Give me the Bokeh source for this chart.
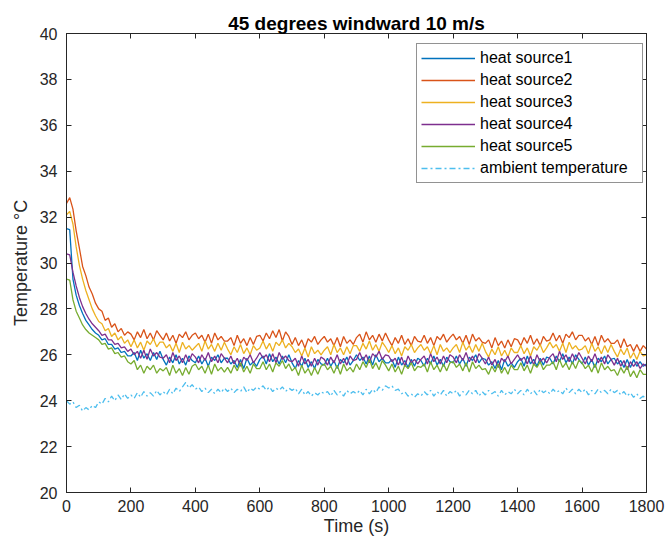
from bokeh.plotting import figure
from bokeh.models import Range1d, LinearAxis, SingleIntervalTicker, Legend
from bokeh.embed import file_html
from bokeh.resources import INLINE

# ---------------- data ----------------
time_s = list(range(0, 1801, 10))

heat_source1 = [
    31.5, 31.45, 29.3, 28.6, 28.15, 27.8, 27.5, 27.3, 27.1, 26.95,
    26.85, 26.65, 26.7, 26.45, 26.45, 26.25, 26.3, 26.1, 26.15, 25.95,
    25.95, 26.1, 25.75, 26.2, 25.85, 26.05, 25.75, 26.1, 25.8, 26.15,
    25.8, 25.55, 25.9, 25.65, 26.0, 25.6, 25.85, 25.55, 25.95, 25.75,
    25.65, 25.95, 25.6, 25.85, 25.5, 25.9, 25.75, 26.0, 25.65, 25.85,
    25.85, 25.6, 25.75, 25.45, 25.8, 25.4, 25.85, 25.55, 25.7, 25.5,
    25.8, 25.95, 25.6, 26.05, 25.7, 25.9, 25.6, 25.95, 25.65, 26.0,
    25.65, 25.4, 25.75, 25.5, 25.85, 25.45, 25.7, 25.4, 25.8, 25.6,
    25.55, 25.85, 25.5, 25.75, 25.4, 25.8, 25.65, 25.9, 25.55, 25.75,
    26.0, 25.75, 25.9, 25.6, 25.95, 25.55, 26.0, 25.7, 25.85, 25.65,
    25.65, 25.8, 25.45, 25.9, 25.55, 25.75, 25.45, 25.8, 25.5, 25.85,
    25.75, 25.5, 25.85, 25.6, 25.95, 25.55, 25.8, 25.5, 25.9, 25.7,
    25.65, 25.95, 25.6, 25.85, 25.5, 25.9, 25.75, 26.0, 25.65, 25.85,
    25.8, 25.55, 25.7, 25.4, 25.75, 25.35, 25.8, 25.5, 25.65, 25.45,
    25.7, 25.85, 25.5, 25.95, 25.6, 25.8, 25.5, 25.85, 25.55, 25.9,
    25.85, 25.6, 25.95, 25.7, 26.05, 25.65, 25.9, 25.6, 26.0, 25.8,
    25.6, 25.9, 25.55, 25.8, 25.45, 25.85, 25.7, 25.95, 25.6, 25.8,
    25.85, 25.6, 25.75, 25.45, 25.8, 25.45, 25.8, 25.5, 25.7, 25.5,
    25.6,
]

heat_source2 = [
    32.6, 32.85, 32.35, 31.4, 30.65, 29.85, 29.45, 28.95, 28.65, 28.25,
    28.0, 27.9, 27.5, 27.6, 27.2, 27.35, 27.0, 27.15, 26.85, 27.0,
    26.9, 26.65, 27.0, 26.75, 27.1, 26.7, 26.95, 26.65, 27.05, 26.85,
    26.65, 26.95, 26.6, 26.85, 26.5, 26.9, 26.75, 27.0, 26.65, 26.85,
    26.95, 26.7, 26.85, 26.55, 26.9, 26.5, 26.95, 26.65, 26.8, 26.6,
    26.6, 26.75, 26.4, 26.85, 26.5, 26.7, 26.4, 26.75, 26.45, 26.8,
    26.85, 26.6, 26.95, 26.7, 27.05, 26.75, 27.1, 26.6, 27.0, 26.8,
    26.45, 26.75, 26.4, 26.65, 26.3, 26.7, 26.55, 26.8, 26.45, 26.65,
    26.8, 26.55, 26.7, 26.4, 26.75, 26.35, 26.8, 26.5, 26.65, 26.45,
    26.75, 26.9, 26.55, 27.0, 26.65, 26.85, 26.55, 26.9, 26.6, 26.95,
    26.65, 26.4, 26.75, 26.5, 26.85, 26.45, 26.7, 26.4, 26.8, 26.6,
    26.55, 26.85, 26.5, 26.75, 26.4, 26.8, 26.65, 26.9, 26.55, 26.75,
    26.9, 26.65, 26.8, 26.5, 26.85, 26.45, 26.9, 26.6, 26.75, 26.55,
    26.5, 26.65, 26.3, 26.75, 26.4, 26.6, 26.3, 26.65, 26.35, 26.7,
    26.65, 26.4, 26.75, 26.5, 26.85, 26.45, 26.7, 26.4, 26.8, 26.6,
    26.65, 26.95, 26.6, 26.85, 26.5, 26.9, 26.75, 27.0, 26.65, 26.85,
    26.85, 26.6, 26.75, 26.45, 26.8, 26.4, 26.85, 26.55, 26.7, 26.5,
    26.5, 26.65, 26.3, 26.7, 26.35, 26.45, 26.15, 26.45, 26.15, 26.4,
    26.25,
]

heat_source3 = [
    32.1, 32.25, 31.7, 30.7, 29.9, 29.3, 28.8, 28.4, 28.0, 27.7,
    27.45, 27.35, 27.05, 27.15, 26.8, 26.95, 26.65, 26.8, 26.5, 26.65,
    26.35, 26.65, 26.3, 26.55, 26.2, 26.6, 26.45, 26.7, 26.35, 26.55,
    26.55, 26.3, 26.45, 26.15, 26.5, 26.1, 26.55, 26.25, 26.4, 26.2,
    26.35, 26.5, 26.15, 26.6, 26.25, 26.45, 26.15, 26.5, 26.2, 26.55,
    26.25, 26.0, 26.35, 26.1, 26.45, 26.05, 26.3, 26.0, 26.4, 26.2,
    26.3, 26.6, 26.25, 26.5, 26.15, 26.55, 26.4, 26.65, 26.3, 26.5,
    26.35, 26.1, 26.25, 25.95, 26.3, 25.9, 26.35, 26.05, 26.2, 26.0,
    26.2, 26.35, 26.0, 26.45, 26.1, 26.3, 26.0, 26.35, 26.05, 26.4,
    26.4, 26.15, 26.5, 26.25, 26.6, 26.2, 26.45, 26.15, 26.55, 26.35,
    26.1, 26.4, 26.05, 26.3, 25.95, 26.35, 26.2, 26.45, 26.1, 26.3,
    26.45, 26.2, 26.35, 26.05, 26.4, 26.0, 26.45, 26.15, 26.3, 26.1,
    26.3, 26.45, 26.1, 26.55, 26.2, 26.4, 26.1, 26.45, 26.15, 26.5,
    26.15, 25.9, 26.25, 26.0, 26.35, 25.95, 26.2, 25.9, 26.3, 26.1,
    26.1, 26.4, 26.05, 26.3, 25.95, 26.35, 26.2, 26.45, 26.1, 26.3,
    26.55, 26.3, 26.45, 26.15, 26.5, 26.1, 26.55, 26.25, 26.4, 26.2,
    26.25, 26.4, 26.05, 26.5, 26.15, 26.35, 26.05, 26.4, 26.1, 26.45,
    26.15, 25.9, 26.25, 26.0, 26.3, 25.85, 26.1, 25.8, 26.15, 25.95,
    26.0,
]

heat_source4 = [
    30.4, 30.35, 29.6, 29.0, 28.5, 28.1, 27.8, 27.55, 27.35, 27.2,
    27.05, 26.85, 26.9, 26.65, 26.65, 26.45, 26.5, 26.3, 26.35, 26.15,
    26.25, 26.0, 26.15, 25.85, 26.2, 25.8, 26.25, 25.95, 26.1, 25.9,
    25.85, 26.0, 25.65, 26.1, 25.75, 25.95, 25.65, 26.0, 25.7, 26.05,
    25.9, 25.65, 26.0, 25.75, 26.1, 25.7, 25.95, 25.65, 26.05, 25.85,
    25.65, 25.95, 25.6, 25.85, 25.5, 25.9, 25.75, 26.0, 25.65, 25.85,
    26.1, 25.85, 26.0, 25.7, 26.05, 25.65, 26.1, 25.8, 25.95, 25.75,
    25.7, 25.85, 25.5, 25.95, 25.6, 25.8, 25.5, 25.85, 25.55, 25.9,
    25.8, 25.55, 25.9, 25.65, 26.0, 25.6, 25.85, 25.55, 25.95, 25.75,
    25.8, 26.1, 25.75, 26.0, 25.65, 26.05, 25.9, 26.15, 25.8, 26.0,
    25.95, 25.7, 25.85, 25.55, 25.9, 25.5, 25.95, 25.65, 25.8, 25.6,
    25.8, 25.95, 25.6, 26.05, 25.7, 25.9, 25.6, 25.95, 25.65, 26.0,
    25.9, 25.65, 26.0, 25.75, 26.1, 25.7, 25.95, 25.65, 26.05, 25.85,
    25.6, 25.9, 25.55, 25.8, 25.45, 25.85, 25.7, 25.95, 25.6, 25.8,
    26.0, 25.75, 25.9, 25.6, 25.95, 25.55, 26.0, 25.7, 25.85, 25.65,
    25.9, 26.05, 25.7, 26.15, 25.8, 26.0, 25.7, 26.05, 25.75, 26.1,
    25.85, 25.6, 25.95, 25.7, 26.05, 25.65, 25.9, 25.6, 26.0, 25.8,
    25.55, 25.85, 25.5, 25.75, 25.35, 25.7, 25.5, 25.7, 25.4, 25.6,
    25.5,
]

heat_source5 = [
    29.3, 29.25, 28.4, 27.9, 27.6, 27.3, 27.1, 26.95, 26.85, 26.75,
    26.65, 26.45, 26.5, 26.25, 26.3, 26.05, 26.1, 25.9, 25.95, 25.7,
    25.6, 25.75, 25.35, 25.55, 25.2, 25.5, 25.35, 25.55, 25.2, 25.4,
    25.3, 25.45, 25.1, 25.55, 25.2, 25.4, 25.1, 25.45, 25.15, 25.5,
    25.6, 25.35, 25.5, 25.2, 25.55, 25.15, 25.6, 25.3, 25.45, 25.25,
    25.45, 25.2, 25.55, 25.3, 25.65, 25.25, 25.5, 25.2, 25.6, 25.4,
    25.4, 25.7, 25.35, 25.6, 25.25, 25.65, 25.5, 25.75, 25.4, 25.6,
    25.3, 25.45, 25.1, 25.55, 25.2, 25.4, 25.1, 25.45, 25.15, 25.5,
    25.6, 25.35, 25.5, 25.2, 25.55, 25.15, 25.6, 25.3, 25.45, 25.25,
    25.6, 25.35, 25.7, 25.45, 25.8, 25.4, 25.65, 25.35, 25.75, 25.55,
    25.3, 25.6, 25.25, 25.5, 25.15, 25.55, 25.4, 25.65, 25.3, 25.5,
    25.45, 25.6, 25.25, 25.7, 25.35, 25.55, 25.25, 25.6, 25.3, 25.65,
    25.7, 25.45, 25.6, 25.3, 25.65, 25.25, 25.7, 25.4, 25.55, 25.35,
    25.4, 25.15, 25.5, 25.25, 25.6, 25.2, 25.45, 25.15, 25.55, 25.35,
    25.35, 25.65, 25.3, 25.55, 25.2, 25.6, 25.45, 25.7, 25.35, 25.55,
    25.55, 25.7, 25.35, 25.8, 25.45, 25.65, 25.35, 25.7, 25.4, 25.75,
    25.65, 25.4, 25.55, 25.25, 25.6, 25.2, 25.65, 25.35, 25.5, 25.3,
    25.35, 25.1, 25.45, 25.2, 25.5, 25.05, 25.3, 25.0, 25.35, 25.15,
    25.15,
]

ambient = [
    24.0, 23.85, 23.95, 23.7, 23.8, 23.55, 23.7, 23.6, 23.8, 23.7,
    23.95, 23.85, 24.1, 23.95, 24.2, 24.0, 24.25, 24.05, 24.3, 24.1,
    24.25, 24.1, 24.35, 24.15, 24.4, 24.2, 24.35, 24.2, 24.45, 24.25,
    24.4, 24.25, 24.5, 24.3, 24.55, 24.4, 24.6, 24.8, 24.55, 24.7,
    24.5, 24.6, 24.4, 24.55, 24.35, 24.5, 24.3, 24.5, 24.35, 24.55,
    24.4, 24.55, 24.35, 24.5, 24.4, 24.6, 24.35, 24.55, 24.45, 24.6,
    24.5, 24.65, 24.45, 24.6, 24.4, 24.55, 24.45, 24.6, 24.4, 24.55,
    24.45, 24.55, 24.3, 24.5, 24.25, 24.4, 24.2, 24.35, 24.25, 24.4,
    24.3, 24.4, 24.2, 24.45, 24.25, 24.4, 24.2, 24.45, 24.3, 24.4,
    24.3, 24.45, 24.25, 24.5, 24.3, 24.5, 24.35, 24.6, 24.45, 24.65,
    24.55, 24.65, 24.45, 24.5, 24.3, 24.4, 24.2, 24.3, 24.15, 24.3,
    24.2, 24.4, 24.25, 24.45, 24.2, 24.4, 24.25, 24.45, 24.2, 24.4,
    24.3, 24.45, 24.2, 24.4, 24.25, 24.45, 24.3, 24.45, 24.2, 24.4,
    24.25, 24.45, 24.3, 24.4, 24.2, 24.45, 24.25, 24.4, 24.3, 24.5,
    24.3, 24.45, 24.25, 24.5, 24.3, 24.45, 24.25, 24.5, 24.35, 24.45,
    24.3, 24.5, 24.35, 24.45, 24.3, 24.55, 24.35, 24.5, 24.3, 24.5,
    24.35, 24.5, 24.25, 24.45, 24.3, 24.5, 24.35, 24.45, 24.3, 24.5,
    24.35, 24.45, 24.25, 24.4, 24.2, 24.35, 24.15, 24.3, 24.1, 24.2,
    24.05,
]

series_names = ["heat source1", "heat source2", "heat source3",
                "heat source4", "heat source5", "ambient temperature"]
series_values = [heat_source1, heat_source2, heat_source3,
                 heat_source4, heat_source5, ambient]
series_colors = ["#0072BD", "#D95319", "#EDB120", "#7E2F8E", "#77AC30", "#4DBEEE"]
series_dash = ["solid", "solid", "solid", "solid", "solid", "6 3 2 3"]

title_text = "45 degrees windward 10 m/s"
x_label = "Time (s)"
y_label = "Temperature °C"

# ---------------- figure ----------------
FONT = "Liberation Sans"
AX = "#262626"

p = figure(width=667, height=549, output_backend="svg", toolbar_location=None,
           x_range=Range1d(0, 1800), y_range=Range1d(20, 40),
           min_border_left=66, min_border_right=21, min_border_top=33,
           min_border_bottom=57)
p.background_fill_color = "white"
p.border_fill_color = "white"
p.outline_line_color = AX
p.outline_line_width = 1
p.xgrid.visible = False
p.ygrid.visible = False

p.title.text = title_text
p.title.align = "center"
p.title.text_font = FONT
p.title.text_font_size = "19px"
p.title.text_font_style = "bold"
p.title.text_color = "#000000"
p.title.offset = 0
p.title.standoff = 0

for ax, iv in ((p.xaxis[0], 200), (p.yaxis[0], 2)):
    ax.ticker = SingleIntervalTicker(interval=iv)
    ax.major_tick_in = 5
    ax.major_tick_out = 0
    ax.minor_tick_in = 0
    ax.minor_tick_out = 0
    ax.axis_line_color = AX
    ax.major_tick_line_color = AX
    ax.major_label_text_font = FONT
    ax.major_label_text_font_size = "16px"
    ax.major_label_text_color = AX
    ax.axis_label_text_font = FONT
    ax.axis_label_text_font_size = "18px"
    ax.axis_label_text_font_style = "normal"
    ax.axis_label_text_color = AX

p.xaxis.axis_label = x_label
p.yaxis.axis_label = y_label
p.xaxis.major_label_standoff = 7
p.yaxis.major_label_standoff = 9
p.xaxis.axis_label_standoff = 1
p.yaxis.axis_label_standoff = 6

# ticks on the top and right edges (box on), no labels there
for loc, iv, so in (("above", 200, 8), ("right", 2, 0)):
    a = LinearAxis(ticker=SingleIntervalTicker(interval=iv))
    a.major_tick_in = 5
    a.major_tick_out = 0
    a.minor_tick_in = 0
    a.minor_tick_out = 0
    a.axis_line_color = AX
    a.major_tick_line_color = AX
    a.major_label_text_font_size = "1px"
    a.major_label_text_color = None
    a.major_label_standoff = so
    p.add_layout(a, loc)

renderers = []
for name, vals, col, dash in zip(series_names, series_values, series_colors, series_dash):
    r = p.line(time_s, vals, line_color=col, line_width=1.3, line_dash=dash)
    renderers.append((name, [r]))

legend = Legend(items=renderers, location=(350, 309))
legend.label_text_font = FONT
legend.label_text_font_size = "16px"
legend.label_text_color = "#000000"
legend.border_line_color = AX
legend.border_line_width = 1
legend.background_fill_color = "white"
legend.background_fill_alpha = 1
legend.glyph_width = 54
legend.glyph_height = 20
legend.label_height = 20
legend.label_width = 158
legend.label_standoff = 5
legend.spacing = 2
legend.padding = 4
legend.margin = 0
p.add_layout(legend, "center")

open("out.html", "w").write(file_html(p, INLINE))
